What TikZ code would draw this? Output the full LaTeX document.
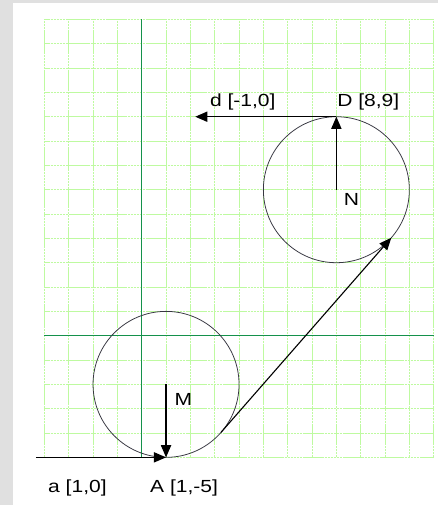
\documentclass[tikz,border=0pt]{standalone}
\usepackage{fontspec}
\setmainfont{Liberation Sans}[FakeStretch=1.2]
\usetikzlibrary{arrows.meta,calc,positioning}

\definecolor{bgGray}{RGB}{224,224,224}
\definecolor{gridGreen}{RGB}{190,250,160}
\definecolor{axisGreen}{RGB}{20,145,75}
\definecolor{ringGray}{RGB}{55,55,65}

\begin{document}
\begin{tikzpicture}[x=1cm,y=1cm,
    font=\fontsize{20.5}{24}\selectfont,
    vec/.style={line width=1.3pt, -{Triangle[length=0.5cm,width=0.42cm]}},
    ring/.style={draw=ringGray, line width=0.9pt},
    lbl/.style={inner sep=0pt, anchor=west}]
  \useasboundingbox (-5.824,-6.958) rectangle (12.178,13.797);
  \fill[bgGray] (-5.824,-6.958) rectangle (12.178,13.797);
  \fill[white] (-5.29,-6.958) rectangle (12.178,13.67);
  % grid and axes
  \draw[gridGreen, line width=1pt, dash pattern=on 3pt off 0.6pt] (-4,-5) grid (12,13);
  \draw[axisGreen, line width=1.1pt] (0,-5) -- (0,13);
  \draw[axisGreen, line width=1.1pt] (-4,0) -- (12,0);
  % points
  \coordinate (M) at (1,-2);
  \coordinate (N) at (8,6);
  \coordinate (A) at (1,-5);
  \coordinate (D) at (8,9);
  \coordinate (a0) at (-4.35,-5);
  \coordinate (d1) at (2.2,9);
  \coordinate (T1) at ($(M)!3cm!-90:(N)$);
  \coordinate (T2) at ($(N)!3cm!90:(M)$);
  \draw[ring] (M) circle (3);
  \draw[ring] (N) circle (3);
  \draw[vec] (a0) -- (A);
  \draw[vec] (M) -- (A);
  \draw[vec] (N) -- (D);
  \draw[vec] (D) -- (d1);
  \draw[vec] (T1) -- (T2);
  % labels
  \node[lbl] (Mlab) at (1.35,-2.62) {M};
  \node[lbl] (Nlab) at (8.3,5.58) {N};
  \node[lbl] (alab) at (-3.85,-6.26) {a [1,0]};
  \node[lbl] (Alab) at (0.34,-6.26) {A [1,-5]};
  \node[lbl] (dlab) at (2.8,9.6) {d [-1,0]};
  \node[lbl] (Dlab) at (8.03,9.6) {D [8,9]};
\end{tikzpicture}
\end{document}
